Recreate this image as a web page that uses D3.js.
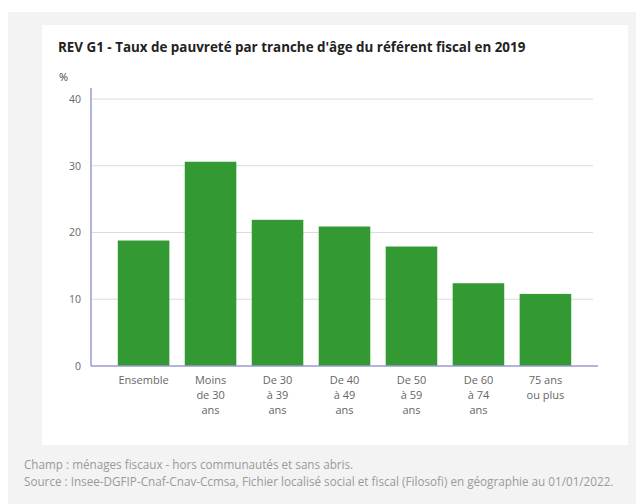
<!DOCTYPE html>
<html><head><meta charset="utf-8">
<script src="https://cdn.jsdelivr.net/npm/d3@7"></script>
<style>
html,body{margin:0;padding:0;background:#fff;}
svg{display:block;font-family:"Open Sans",sans-serif;}
</style></head>
<body>
<svg id="c" width="644" height="504"></svg>
<script>
const categories = ["Ensemble","Moins de 30 ans","De 30 à 39 ans","De 40 à 49 ans","De 50 à 59 ans","De 60 à 74 ans","75 ans ou plus"];
const categoryLines = [["Ensemble"],["Moins","de 30","ans"],["De 30","à 39","ans"],["De 40","à 49","ans"],["De 50","à 59","ans"],["De 60","à 74","ans"],["75 ans","ou plus"]];
const values = [18.8, 30.6, 21.9, 20.9, 17.9, 12.4, 10.8];
const yTicks = [0, 10, 20, 30, 40];
const title = "REV G1 - Taux de pauvreté par tranche d'âge du référent fiscal en 2019";
const unit = "%";
const notes = ["Champ : ménages fiscaux - hors communautés et sans abris.",
  "Source : Insee-DGFIP-Cnaf-Cnav-Ccmsa, Fichier localisé social et fiscal (Filosofi) en géographie au 01/01/2022."];

const svg = d3.select("#c");
svg.append("rect").attr("x",8).attr("y",12).attr("width",628).attr("height",492).attr("fill","#f3f3f3");
svg.append("rect").attr("x",42).attr("y",25).attr("width",586).attr("height",420).attr("fill","#fff");

svg.append("text").attr("x",58).attr("y",52).attr("font-size",13.4).attr("font-weight","bold")
  .attr("fill","#222").text(title);
svg.append("text").attr("x",59).attr("y",81).attr("font-size",11).attr("fill","#444").text(unit);

const x = d3.scaleBand().domain(categories).range([91,598]).paddingInner(0.23).paddingOuter(0.4);
const y = d3.scaleLinear().domain([0,40]).range([366,99]);

// gridlines
svg.append("g").selectAll("line").data(yTicks.filter(d=>d>0)).join("line")
  .attr("x1",91).attr("x2",593).attr("y1",d=>y(d)).attr("y2",d=>y(d))
  .attr("stroke","#dcdcdc").attr("stroke-width",1.2);

// y axis
const ya = svg.append("g").attr("transform","translate(91,0)")
  .call(d3.axisLeft(y).tickValues(yTicks).tickSize(0).tickPadding(10));
ya.select(".domain").remove();
ya.selectAll("text").attr("font-size",10.5).attr("fill","#666").attr("font-family","Open Sans");
svg.append("line").attr("x1",91).attr("x2",91).attr("y1",88).attr("y2",366)
  .attr("stroke","#9a9ad0").attr("stroke-width",1.5);

// bars
svg.append("g").selectAll("rect").data(values).join("rect")
  .attr("x",(d,i)=>x(categories[i])).attr("width",x.bandwidth())
  .attr("y",d=>y(d)).attr("height",d=>y(0)-y(d)).attr("fill","#339a33");

// x axis
const xa = svg.append("g").attr("transform","translate(0,366)")
  .call(d3.axisBottom(x).tickSize(0).tickFormat(""));
xa.select(".domain").attr("d","M91,0H598").attr("stroke","#9a9ad0").attr("stroke-width",1.5);
xa.selectAll(".tick").each(function(d,i){
  const t = d3.select(this).append("text").attr("fill","#666").attr("font-size",11)
    .attr("text-anchor","middle").attr("font-family","Open Sans");
  categoryLines[i].forEach((l,j)=>t.append("tspan").attr("x",0).attr("y",18+j*15).text(l));
});

notes.forEach((n,i)=>svg.append("text").attr("x",24).attr("y",469+i*17).attr("font-size",11.7)
  .attr("fill","#9a9a9a").text(n));
</script>
</body></html>
